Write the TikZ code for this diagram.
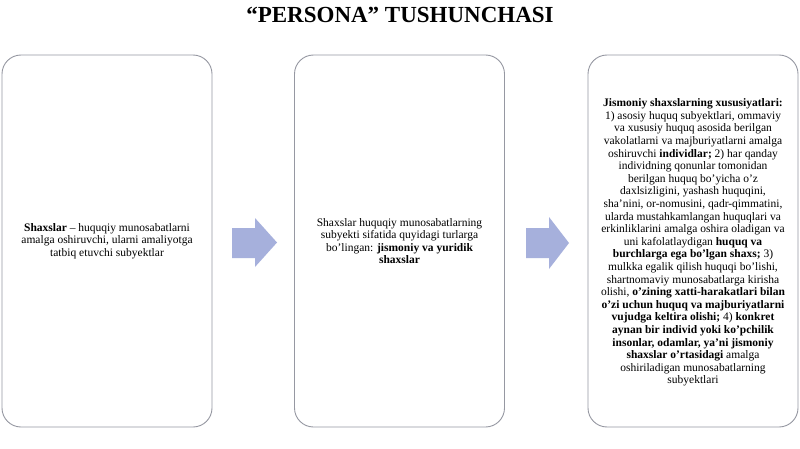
\documentclass[tikz,border=0pt]{standalone}
\usepackage{fontspec}
\setmainfont{Liberation Serif}
\definecolor{boxline}{RGB}{150,152,162}
\definecolor{arrowfill}{RGB}{166,176,220}
\tikzset{
  card/.style={draw=boxline, line width=0.9pt, fill=white, rounded corners=19pt,
    minimum width=210pt, minimum height=372pt, inner sep=0pt},
  cardtext/.style={align=center, font=\fontsize{11.5}{12.6}\selectfont, inner sep=0pt},
  blockarrow/.style={fill=arrowfill, draw=none}
}
\begin{document}
\begin{tikzpicture}[x=1pt,y=-1pt]
\useasboundingbox (0,0) rectangle (800,449);
\fill[white] (0,0) rectangle (800,449);
\node[font=\bfseries\fontsize{23}{26}\selectfont] (title) at (400,15) {“PERSONA” TUSHUNCHASI};
\node[card] (b1) at (107,241) {};
\node[card] (b2) at (399.5,241) {};
\node[card] (b3) at (693,241) {};
\node[cardtext] (t1) at (b1.center) {\textbf{Shaxslar} – huquqiy munosabatlarni\\amalga oshiruvchi, ularni amaliyotga\\tatbiq etuvchi subyektlar};
\node[cardtext] (t2) at (b2.center) {Shaxslar huquqiy munosabatlarning\\subyekti sifatida quyidagi turlarga\\bo’lingan: \textbf{jismoniy va yuridik}\\\textbf{shaxslar}};
\node[cardtext] (t3) at (693,242.5) {\textbf{Jismoniy shaxslarning xususiyatlari:}\\
1) asosiy huquq subyektlari, ommaviy\\
va xususiy huquq asosida berilgan\\
vakolatlarni va majburiyatlarni amalga\\
oshiruvchi \textbf{individlar;} 2) har qanday\\
individning qonunlar tomonidan\\
berilgan huquq bo’yicha o’z\\
daxlsizligini, yashash huquqini,\\
sha’nini, or-nomusini, qadr-qimmatini,\\
ularda mustahkamlangan huquqlari va\\
erkinliklarini amalga oshira oladigan va\\
uni kafolatlaydigan \textbf{huquq va}\\
\textbf{burchlarga ega bo’lgan shaxs;} 3)\\
mulkka egalik qilish huquqi bo’lishi,\\
shartnomaviy munosabatlarga kirisha\\
olishi, \textbf{o’zining xatti-harakatlari bilan}\\
\textbf{o’zi uchun huquq va majburiyatlarni}\\
\textbf{vujudga keltira olishi;} 4) \textbf{konkret}\\
\textbf{aynan bir individ yoki ko’pchilik}\\
\textbf{insonlar, odamlar, ya’ni jismoniy}\\
\textbf{shaxslar o’rtasidagi} amalga\\
oshiriladigan munosabatlarning\\
subyektlari};
\fill[blockarrow] (232,228) -- (255,228) -- (255,218) -- (277,242.5) -- (255,267) -- (255,258) -- (232,258) -- cycle;
\fill[blockarrow] (526,228) -- (549,228) -- (549,217) -- (569,243) -- (549,269) -- (549,258) -- (526,258) -- cycle;
\end{tikzpicture}
\end{document}
